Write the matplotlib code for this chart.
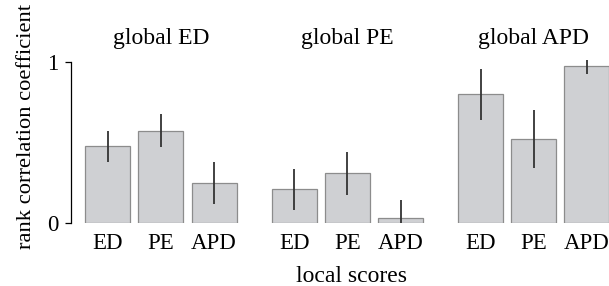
import matplotlib
matplotlib.use("Agg")
import matplotlib.pyplot as plt
import numpy as np

plt.rcParams['font.family'] = ['Liberation Serif', 'DejaVu Serif']

panels = ["global ED", "global PE", "global APD"]
local_scores = ["ED", "PE", "APD"]
values_ed = [0.477, 0.572, 0.248]
lower_ed = [0.376, 0.469, 0.118]
upper_ed = [0.570, 0.674, 0.380]
values_pe = [0.213, 0.308, 0.028]
lower_pe = [0.081, 0.174, -0.05]
upper_pe = [0.333, 0.442, 0.141]
values_apd = [0.798, 0.519, 0.973]
lower_apd = [0.639, 0.339, 0.924]
upper_apd = [0.955, 0.700, 1.010]

all_vals = [values_ed, values_pe, values_apd]
all_low = [lower_ed, lower_pe, lower_apd]
all_up = [upper_ed, upper_pe, upper_apd]

W, H = 609, 286
fig = plt.figure(figsize=(W / 100, H / 100), dpi=100)

lefts = [81.1, 267.6, 453.9]
ax_w = 159.6
y_bot = 223.0
y_top = 61.7

bar_color = "#cfd0d3"
edge_color = "#8c8c8c"
err_color = "#333333"

for i, (title, vals, lo, up) in enumerate(zip(panels, all_vals, all_low, all_up)):
    ax = fig.add_axes([lefts[i] / W, (H - y_bot) / H, ax_w / W, (y_bot - y_top) / H])
    x = np.arange(len(local_scores))
    ax.bar(x, vals, width=0.846, color=bar_color, edgecolor=edge_color, linewidth=0.9, zorder=2)
    for xi, l, u in zip(x, lo, up):
        ax.plot([xi, xi], [l, u], color=err_color, lw=1.3, zorder=3, clip_on=(l < 0), solid_capstyle='butt')
    ax.set_xlim(-0.5, 2.5)
    ax.set_ylim(0, 1)
    ax.set_xticks(x)
    ax.set_xticklabels(local_scores, fontsize=16.5)
    ax.tick_params(axis='x', length=0, pad=7)
    for s in ["top", "right", "bottom"]:
        ax.spines[s].set_visible(False)
    ax.patch.set_visible(False)
    if i == 0:
        ax.spines["left"].set_position(("outward", 7))
        ax.spines["left"].set_bounds(0, 1)
        ax.spines["left"].set_linewidth(0.9)
        ax.set_yticks([0, 1])
        ax.set_yticklabels(["0", "1"], fontsize=16.5)
        ax.tick_params(axis='y', length=4.5, width=0.9, pad=5)
    else:
        ax.spines["left"].set_visible(False)
        ax.set_yticks([])
    ax.text(0.5, 1 + (y_top - 44.3) / (y_bot - y_top), title, transform=ax.transAxes,
            ha='center', va='baseline', fontsize=17)

fig.text(351.7 / W, (H - 281.5) / H, "local scores", ha='center', va='baseline', fontsize=17)
fig.text(27 / W, (H - 126.5) / H, "rank correlation coefficient", ha='center', va='center',
         rotation=90, fontsize=16.2)

fig.savefig("out.png", dpi=100)
